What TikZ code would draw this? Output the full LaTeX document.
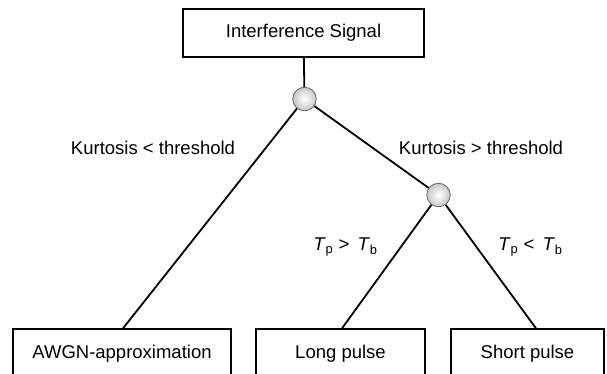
\documentclass[tikz,border=0pt]{standalone}
\usepackage{fontspec}
\setmainfont{Liberation Sans}
\begin{document}
\begin{tikzpicture}[x=1pt,y=-1pt,
  box/.style={draw=black,line width=1.3pt,fill=white,inner sep=0pt,font=\fontsize{18.5}{20}\selectfont},
  split/.style={circle,draw=black!60,line width=0.8pt,minimum size=23.5pt,inner sep=0pt,shading=radial,inner color=white,outer color=black!22},
  edge/.style={line width=1.8pt,black},
  lbl/.style={font=\fontsize{18.5}{20}\selectfont,inner sep=0pt}]
\useasboundingbox (0,0) rectangle (607,374);
\clip (0,0) rectangle (607,374);
\node[box,minimum width=241pt,minimum height=48pt] (top) at (303.5,33) {Interference Signal};
\node[box,minimum width=218pt,minimum height=50pt] (awgn) at (122,354) {AWGN-approximation};
\node[box,minimum width=169pt,minimum height=50pt] (long) at (340.5,354) {Long pulse};
\node[box,minimum width=153pt,minimum height=50pt] (short) at (527.5,354) {Short pulse};
\node[split] (c1) at (304.5,99) {};
\node[split] (c2) at (438.5,195) {};
\draw[edge] (top) -- (c1);
\draw[edge] (c1) -- ([xshift=1pt]awgn.north);
\draw[edge] (c1) -- (c2);
\draw[edge] (c2) -- ([xshift=1.5pt]long.north);
\draw[edge] (c2) -- ([xshift=8.5pt]short.north);
\node[lbl] (k1) at (153,148) {Kurtosis < threshold};
\node[lbl] (k2) at (481,148) {Kurtosis > threshold};
\node[lbl] (t1) at (345.5,247) {\textit{T}\textsubscript{p} >\, \textit{T}\textsubscript{b}};
\node[lbl] (t2) at (530.5,247) {\textit{T}\textsubscript{p} <\, \textit{T}\textsubscript{b}};
\end{tikzpicture}
\end{document}
